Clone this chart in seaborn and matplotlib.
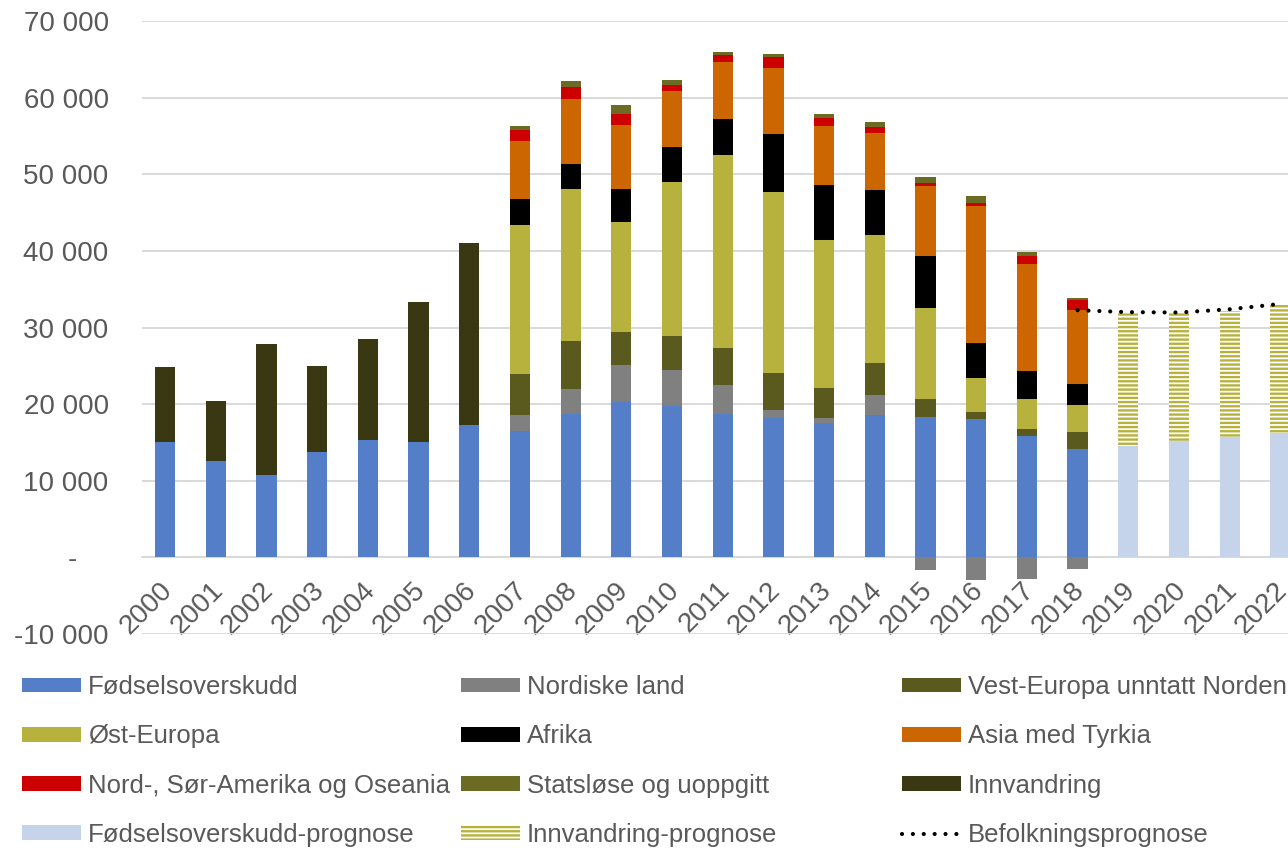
import numpy as np
import pandas as pd
import seaborn as sns
import matplotlib
matplotlib.use("Agg")
import matplotlib.pyplot as plt
import matplotlib.transforms as mtransforms
from matplotlib.patches import Patch
from matplotlib.lines import Line2D
from matplotlib.ticker import FuncFormatter, MultipleLocator

# ---------------- data ----------------
years = [str(y) for y in range(2000, 2023)]

fodselsoverskudd = [15000, 12520, 10740, 13700, 15350, 15040, 17300, 16530, 18740,
                    20270, 19780, 18700, 18150, 17570, 18610, 18260, 18040, 15780, 14170]  # 2000-2018
innvandring = [9870, 7870, 17170, 11260, 13170, 18260, 23700]                              # 2000-2006
nordiske_land = [2070, 3290, 4780, 4730, 3740, 1130, 590, 2520, -1650, -2960, -2780, -1570]  # 2007-2018
vest_europa = [5360, 6260, 4320, 4330, 4910, 4780, 3920, 4260, 2430, 960, 910, 2170]
ost_europa = [19370, 19780, 14460, 20090, 25180, 23610, 19370, 16700, 11870, 4350, 3960, 3520]
afrika = [3470, 3330, 4280, 4690, 4640, 7570, 7210, 5870, 6780, 4650, 3650, 2780]
asia = [7570, 8470, 8380, 7300, 7430, 8650, 7610, 7480, 9090, 17830, 13960, 9610]
amerika_oseania = [1400, 1530, 1350, 720, 950, 1400, 1080, 780, 430, 430, 1090, 1350]
statslose = [500, 810, 1220, 680, 360, 360, 450, 570, 780, 910, 480, 220]
fodsel_prognose = [14570, 15170, 15650, 16170]      # 2019-2022
innv_prognose = [17390, 16740, 16480, 16830]        # 2019-2022
befolkning_years = ["2018", "2019", "2020", "2021", "2022"]
befolkningsprognose = [32260, 32000, 31960, 32380, 33080]

labels = ["Fødselsoverskudd", "Nordiske land", "Vest-Europa unntatt Norden",
          "Øst-Europa", "Afrika", "Asia med Tyrkia",
          "Nord-, Sør-Amerika og Oseania", "Statsløse og uoppgitt", "Innvandring",
          "Fødselsoverskudd-prognose", "Innvandring-prognose", "Befolkningsprognose"]

colors = {
    "Fødselsoverskudd": "#557EC8",
    "Nordiske land": "#808080",
    "Vest-Europa unntatt Norden": "#5B5A1E",
    "Øst-Europa": "#B7B23E",
    "Afrika": "#000000",
    "Asia med Tyrkia": "#CC6600",
    "Nord-, Sør-Amerika og Oseania": "#CC0000",
    "Statsløse og uoppgitt": "#6B6B23",
    "Innvandring": "#3A3713",
    "Fødselsoverskudd-prognose": "#C5D3EB",
    "Innvandring-prognose": "#B7B23E",
    "Befolkningsprognose": "#000000",
}


def full(values, start_year):
    arr = np.zeros(len(years))
    i0 = years.index(str(start_year))
    arr[i0:i0 + len(values)] = values
    return arr


# ---------------- style ----------------
sns.set_theme(style="white")
plt.rcParams["font.family"] = ["Liberation Sans", "DejaVu Sans"]
plt.rcParams["hatch.linewidth"] = 1.7
TXT = "#595959"
GRID = "#D9D9D9"

fig = plt.figure(figsize=(12.88, 8.5), dpi=100)
ax = fig.add_axes([142 / 1288, 1 - 634 / 850, (1288 - 142) / 1288, (634 - 21) / 850])

BW = 0.4
common = dict(order=years, errorbar=None, width=BW, saturation=1, linewidth=0, ax=ax)

# positive stack
stack = [
    ("Fødselsoverskudd", full(fodselsoverskudd, 2000)),
    ("Innvandring", full(innvandring, 2000)),
    ("Nordiske land", np.clip(full(nordiske_land, 2007), 0, None)),
    ("Vest-Europa unntatt Norden", full(vest_europa, 2007)),
    ("Øst-Europa", full(ost_europa, 2007)),
    ("Afrika", full(afrika, 2007)),
    ("Asia med Tyrkia", full(asia, 2007)),
    ("Nord-, Sør-Amerika og Oseania", full(amerika_oseania, 2007)),
    ("Statsløse og uoppgitt", full(statslose, 2007)),
]
bottom = np.zeros(len(years))
for name, vals in stack:
    sns.barplot(x=years, y=vals, bottom=bottom.copy(), color=colors[name], **common)
    bottom = bottom + vals

# negative Nordic values
neg = np.clip(full(nordiske_land, 2007), None, 0)
sns.barplot(x=years, y=neg, color=colors["Nordiske land"], **common)

# forecasts
fp = full(fodsel_prognose, 2019)
ip = full(innv_prognose, 2019)
sns.barplot(x=years, y=fp, color=colors["Fødselsoverskudd-prognose"], **common)
sns.barplot(x=years, y=ip, bottom=fp, color="white", **common,
            hatch="----", edgecolor=colors["Innvandring-prognose"])

# population forecast line
line_pos = [years.index(y) for y in befolkning_years]
DOT = (0, (0.01, 2.6))
sns.lineplot(x=line_pos, y=befolkningsprognose, color="black", linewidth=3,
             linestyle=DOT, dash_capstyle="round", ax=ax, legend=False, zorder=5)

# ---------------- axes ----------------
ax.set_xlim(-0.455, 22.15)
ax.set_ylim(-10000, 70000)
ax.yaxis.set_major_locator(MultipleLocator(10000))


def yfmt(v, pos):
    v = int(round(v))
    if v == 0:
        return "-    "
    return f"{v:,}".replace(",", " ")


ax.yaxis.set_major_formatter(FuncFormatter(yfmt))
ax.set_xlabel("")
ax.set_ylabel("")
ax.set_axisbelow(True)
ax.yaxis.grid(True, color=GRID, linewidth=1.4)
ax.xaxis.grid(False)
for s in ["left", "right", "top"]:
    ax.spines[s].set_visible(False)
ax.spines["bottom"].set_position(("data", 0))
ax.spines["bottom"].set_color(GRID)
ax.spines["bottom"].set_linewidth(1.4)
ax.spines["bottom"].set_zorder(0.5)

ax.tick_params(axis="y", length=0, pad=24, labelsize=20, labelcolor=TXT)
ax.tick_params(axis="x", length=0, pad=14, labelsize=20, labelcolor=TXT)
ax.set_xticks(range(len(years)))
ax.set_xticklabels(years)
shift = mtransforms.ScaledTranslation(-6 / 100, 0, fig.dpi_scale_trans)
for t in ax.get_xticklabels():
    t.set_rotation(45)
    t.set_ha("right")
    t.set_va("top")
    t.set_rotation_mode("anchor")
    t.set_transform(t.get_transform() + shift)

# ---------------- legend ----------------
def patch(name):
    return Patch(facecolor=colors[name], edgecolor="none", linewidth=0)


hatch_handle = Patch(facecolor="white", edgecolor=colors["Innvandring-prognose"],
                     linewidth=0, hatch="----")
line_handle = Line2D([], [], color="black", linewidth=3, linestyle=DOT,
                     dash_capstyle="round")

columns = [
    ([patch(labels[0]), patch(labels[3]), patch(labels[6]), patch(labels[9])],
     [labels[0], labels[3], labels[6], labels[9]], 22),
    ([patch(labels[1]), patch(labels[4]), patch(labels[7]), hatch_handle],
     [labels[1], labels[4], labels[7], labels[10]], 461),
    ([patch(labels[2]), patch(labels[5]), patch(labels[8]), line_handle],
     [labels[2], labels[5], labels[8], labels[11]], 902),
]
for handles, labs, xpx in columns:
    leg = fig.legend(handles, labs, loc="upper left",
                     bbox_to_anchor=(xpx / 1288, 1 - 675 / 850),
                     bbox_transform=fig.transFigure, frameon=False,
                     fontsize=18.5, handlelength=2.3, handleheight=0.5,
                     handletextpad=0.27, labelspacing=0.985, borderpad=0,
                     borderaxespad=0)
    for t in leg.get_texts():
        t.set_color(TXT)

fig.savefig("out.png", dpi=100)
